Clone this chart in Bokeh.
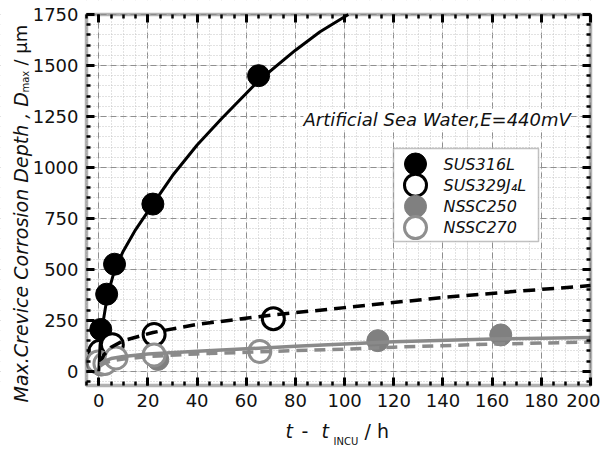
from bokeh.plotting import figure
from bokeh.models import (Range1d, SingleIntervalTicker, LinearAxis, Label,
                          Grid, BoxAnnotation)
from bokeh.embed import file_html
from bokeh.resources import INLINE

# ---------------- data ----------------
sus316_t = [0.8, 3.2, 6.4, 22, 65]
sus316_d = [205, 378, 525, 820, 1450]

sus329_t = [0.5, 5.5, 22.5, 71]
sus329_d = [98, 130, 180, 258]

nssc250_t = [1.0, 24, 113.5, 163.5]
nssc250_d = [30, 58, 150, 178]

nssc270_t = [-0.3, 2.5, 7, 22.5, 65.5]
nssc270_d = [45, 38, 65, 80, 97]

fit316_t = [0, 0.5, 1, 2, 3.5, 6.5, 10, 15, 22, 30, 40, 50, 65, 80, 90, 101.5]
fit316_d = [0, 125, 180, 260, 370, 500, 590, 695, 820, 960, 1110, 1240, 1425, 1575, 1665, 1750]

fit329_t = [0.5, 2, 5, 10, 22, 40, 70, 100, 140, 170, 200]
fit329_d = [40, 80, 118, 150, 190, 230, 275, 312, 362, 392, 420]

fit250_t = [0.5, 2, 5, 10, 20, 40, 60, 80, 100, 120, 160, 200]
fit250_d = [35, 48, 62, 72, 85, 98, 110, 122, 134, 145, 158, 165]

fit270_t = [0.5, 2, 5, 10, 20, 40, 60, 80, 100, 120, 160, 200]
fit270_d = [25, 38, 50, 60, 72, 85, 93, 101, 108, 118, 133, 143]

series_labels = ["SUS316L", "SUS329J\u2084L", "NSSC250", "NSSC270"]
note_text = "Artificial Sea Water,E=440mV"

FONT = "DejaVu Sans"
X0, X1, Y0, Y1 = -5, 200, -70, 1750          # axis limits of the plot box

# ---------------- layout (pixels, origin top-left of canvas) ----------------
W, H = 600, 448
BOX_L, BOX_R, BOX_T, BOX_B = 86, 590, 14, 385  # plot box edges
SX = (BOX_R - BOX_L) / (X1 - X0)
SY = (BOX_B - BOX_T) / (Y1 - Y0)
XS, XE = X0 - BOX_L / SX, X1 + (W - BOX_R) / SX
YS, YE = Y0 - (H - BOX_B) / SY, Y1 + BOX_T / SY


def sx(px):      # canvas px -> screen units
    return px


def sy(py):
    return H - py


def dx(px):      # canvas px -> data units
    return XS + px / SX


def dy(py):
    return YS + (H - py) / SY


# ---------------- figure ----------------
p = figure(width=W, height=H, x_range=Range1d(XS, XE), y_range=Range1d(YS, YE),
           output_backend="svg", toolbar_location=None,
           x_axis_location=None, y_axis_location=None, min_border=0)
p.background_fill_color = "white"
p.border_fill_color = "white"
p.outline_line_color = None

xt = SingleIntervalTicker(interval=20, num_minor_ticks=4)
yt = SingleIntervalTicker(interval=250, num_minor_ticks=5)

# grids
for dim, tk, bnd in [(0, xt, (X0, X1)), (1, yt, (Y0, Y1))]:
    p.add_layout(Grid(dimension=dim, ticker=tk, bounds=bnd,
                      grid_line_color="#8f8f8f", grid_line_dash="6 4", grid_line_width=1,
                      minor_grid_line_color="#c4c4c4", minor_grid_line_dash="1 2",
                      minor_grid_line_width=1))

# white masks outside the plot box (hide grid overflow)
for l, r, t, b in [(0, BOX_L, 0, H), (BOX_R, W, 0, H), (0, W, 0, BOX_T), (0, W, BOX_B, H)]:
    p.add_layout(BoxAnnotation(left=sx(l), right=sx(r), top=sy(t), bottom=sy(b),
                               left_units="screen", right_units="screen",
                               top_units="screen", bottom_units="screen",
                               fill_color="white", fill_alpha=1.0, line_color=None,
                               level="underlay"))


def style_axis(ax, labels):
    ax.axis_line_color = None
    ax.major_tick_in = 8
    ax.major_tick_out = 0
    ax.minor_tick_in = 4
    ax.minor_tick_out = 0
    ax.major_tick_line_width = 3
    ax.minor_tick_line_width = 2.5
    ax.major_tick_line_color = "black"
    ax.minor_tick_line_color = "black"
    if labels:
        ax.major_label_text_font = FONT
        ax.major_label_text_font_size = "18px"
        ax.major_label_text_color = "#111111"
        ax.major_label_standoff = 8
    else:
        ax.major_label_text_font_size = "1px"
        ax.major_label_text_color = None
        ax.major_label_standoff = 0


for loc, ticker, fixed, bnd, labflag in [("below", xt, Y0, (X0, X1), True),
                                         ("above", xt, Y1, (X0, X1), False),
                                         ("left", yt, X0, (Y0, Y1), True),
                                         ("right", yt, X1, (Y0, Y1), False)]:
    ax = LinearAxis(ticker=ticker, fixed_location=fixed, bounds=bnd)
    style_axis(ax, labflag)
    p.add_layout(ax, loc)

styles = [
    dict(fill_color="black", line_color="black", line_width=1),
    dict(fill_color="white", line_color="black", line_width=3),
    dict(fill_color="#808080", line_color="#808080", line_width=1),
    dict(fill_color="white", line_color="#8f8f8f", line_width=3),
]
MSIZE = 22

# ---------------- markers ----------------
for (tt, dd), st in zip([(sus316_t, sus316_d), (sus329_t, sus329_d),
                         (nssc250_t, nssc250_d), (nssc270_t, nssc270_d)], styles):
    p.scatter(tt, dd, marker="circle", size=MSIZE, **st)

# ---------------- fitted curves ----------------
p.line(fit316_t, fit316_d, line_color="black", line_width=3)
p.line(fit329_t, fit329_d, line_color="black", line_width=3.5, line_dash="12 7")
p.line(fit250_t, fit250_d, line_color="#8a8a8a", line_width=3.5)
p.line(fit270_t, fit270_d, line_color="#8a8a8a", line_width=3.5, line_dash="11 7")

# plot box outline
p.add_layout(BoxAnnotation(left=X0, right=X1, bottom=Y0, top=Y1, fill_color=None,
                           line_color="black", line_width=3.5))

# ---------------- legend (drawn by hand, canvas pixels) ----------------
LEG_L, LEG_R, LEG_T, LEG_B = 393, 538, 148, 241
ROW0, ROW = 163.5, 21.2
MARK_X, TEXT_X = 415, 443

p.add_layout(BoxAnnotation(left=sx(LEG_L), right=sx(LEG_R), top=sy(LEG_T), bottom=sy(LEG_B),
                           left_units="screen", right_units="screen",
                           bottom_units="screen", top_units="screen",
                           fill_color="white", fill_alpha=1.0,
                           line_color="#333333", line_width=1.5, level="underlay"))

for i, (txt, st) in enumerate(zip(series_labels, styles)):
    py = ROW0 + i * ROW
    p.scatter([dx(MARK_X)], [dy(py)], marker="circle", size=MSIZE, **st)
    p.add_layout(Label(x=sx(TEXT_X), y=sy(py), x_units="screen", y_units="screen",
                       text=txt, text_align="left", text_baseline="middle",
                       text_font=FONT, text_font_style="italic",
                       text_font_size="16px", text_color="#111111"))

# ---------------- annotation ----------------
p.add_layout(Label(x=192, y=1235, text=note_text, text_align="right",
                   text_baseline="middle", text_font=FONT, text_font_style="italic",
                   text_font_size="18px", text_color="#111111",
                   background_fill_color="white"))


# ---------------- axis titles (pieces, canvas pixels) ----------------
def lab(px, py, text, size, style="normal", angle=0):
    p.add_layout(Label(x=sx(px), y=sy(py), x_units="screen", y_units="screen", text=text,
                       angle=angle, angle_units="deg", text_align="left",
                       text_baseline="alphabetic", text_font=FONT,
                       text_font_size=size, text_font_style=style,
                       text_color="#111111"))


# y title
lab(20, 402, "Max.Crevice Corrosion Depth , D", "19px", "italic", 90)
lab(25, 92, "max", "10px", "normal", 90)
lab(20, 65, "/ \u03bcm", "18px", "normal", 90)

# x title
lab(285, 430, "t", "19px", "italic")
lab(301, 430, "-", "19px", "normal")
lab(321, 430, "t", "19px", "italic")
lab(333, 441, "INCU", "10px", "normal")
lab(364, 430, "/ h", "19px", "normal")

open("out.html", "w").write(file_html(p, INLINE))
